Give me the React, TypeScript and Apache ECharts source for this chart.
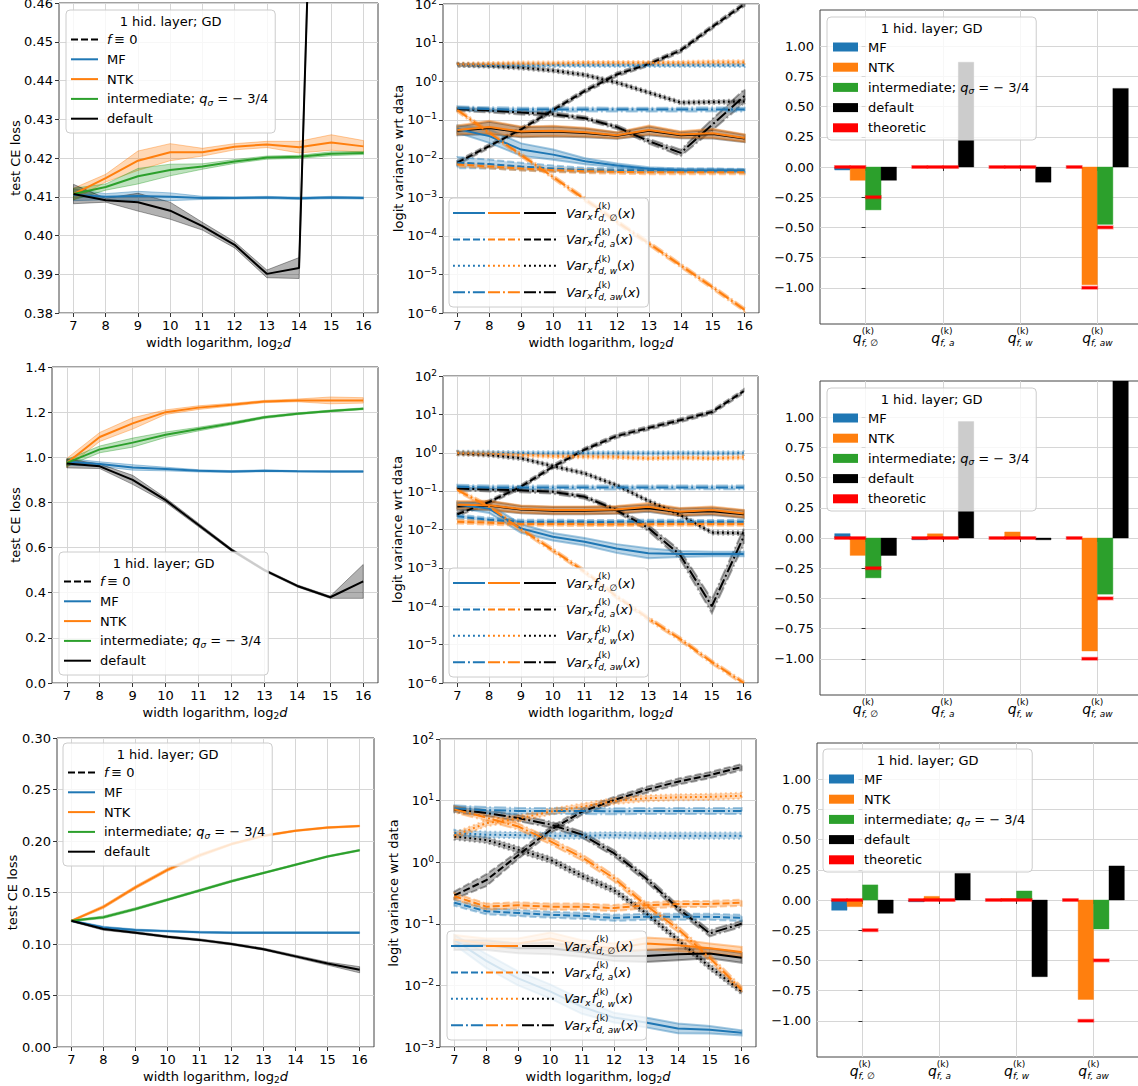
import React, { useEffect, useRef } from 'react';
import * as echarts from 'echarts';

const FONT = '"DejaVu Sans", sans-serif';
const INK = '#000000';
const GRID_LINE = '#d6d6d6';
const FRAME = '#444444';
const COL: any = { mf: '#1f77b4', ntk: '#ff7f0e', int: '#2ca02c', def: '#000000', th: '#ff0000' };
const FILL: any = { mf: 'rgba(31,119,180,0.3)', ntk: 'rgba(255,127,14,0.3)', int: 'rgba(44,160,44,0.3)', def: 'rgba(0,0,0,0.3)' };
const EDGE: any = { mf: 'rgba(31,119,180,0.4)', ntk: 'rgba(255,127,14,0.4)', int: 'rgba(44,160,44,0.4)', def: 'rgba(0,0,0,0.35)', th: 'rgba(255,0,0,0.4)' };
const DASH: any = { o: 'solid', a: [7, 3], w: [1.9, 3.1], aw: [12, 3, 1.9, 3] };

// ---------------- data ----------------
const WIDTHS = [7, 8, 9, 10, 11, 12, 13, 14, 15, 16];

// row 1: test CE loss
const LOSS1_MF = [0.4105, 0.41, 0.4102, 0.41, 0.4097, 0.4097, 0.4098, 0.4096, 0.4098, 0.4097];
const LOSS1_MF_ERR = [0.0015, 0.0008, 0.0012, 0.001, 0.0004, 0.0003, 0.0003, 0.0003, 0.0003, 0.0003];
const LOSS1_NTK = [0.4107, 0.4148, 0.4193, 0.4215, 0.4215, 0.4229, 0.4235, 0.4228, 0.424, 0.423];
const LOSS1_NTK_ERR = [0.0015, 0.001, 0.0025, 0.0022, 0.001, 0.0008, 0.0008, 0.0015, 0.002, 0.0015];
const LOSS1_INT = [0.4107, 0.4125, 0.4153, 0.4169, 0.4178, 0.4191, 0.4201, 0.4203, 0.4211, 0.4213];
const LOSS1_INT_ERR = [0.0015, 0.0008, 0.002, 0.0015, 0.0007, 0.0005, 0.0004, 0.0004, 0.0005, 0.0004];
const LOSS1_DEF = [0.4107, 0.4091, 0.4086, 0.4064, 0.4024, 0.3976, 0.3901, 0.3916, 0.665, 0.68];
const LOSS1_DEF_ERR = [0.0025, 0.0005, 0.0023, 0.0022, 0.001, 0.0008, 0.001, 0.0027, 0.005, 0.005];

// row 2
const LOSS2_MF = [0.98, 0.97, 0.955, 0.948, 0.94, 0.937, 0.94, 0.938, 0.937, 0.937];
const LOSS2_MF_ERR = [0.015, 0.01, 0.012, 0.008, 0.005, 0.004, 0.004, 0.003, 0.003, 0.003];
const LOSS2_NTK = [0.975, 1.09, 1.15, 1.2, 1.22, 1.233, 1.247, 1.252, 1.252, 1.252];
const LOSS2_NTK_ERR = [0.02, 0.02, 0.025, 0.01, 0.008, 0.006, 0.005, 0.006, 0.015, 0.012];
const LOSS2_INT = [0.975, 1.035, 1.065, 1.1, 1.125, 1.15, 1.177, 1.193, 1.205, 1.215];
const LOSS2_INT_ERR = [0.015, 0.015, 0.02, 0.012, 0.008, 0.006, 0.005, 0.004, 0.004, 0.004];
const LOSS2_DEF = [0.973, 0.96, 0.9, 0.81, 0.7, 0.59, 0.5, 0.43, 0.38, 0.45];
const LOSS2_DEF_ERR = [0.02, 0.01, 0.02, 0.01, 0.008, 0.006, 0.005, 0.005, 0.005, 0.075];

// row 3
const LOSS3_MF = [0.1225, 0.116, 0.1135, 0.1125, 0.1115, 0.111, 0.111, 0.111, 0.111, 0.111];
const LOSS3_MF_ERR = [0.0008, 0.0012, 0.001, 0.0008, 0.0008, 0.0008, 0.0008, 0.0008, 0.0008, 0.0008];
const LOSS3_NTK = [0.1225, 0.136, 0.155, 0.172, 0.186, 0.197, 0.205, 0.21, 0.213, 0.2145];
const LOSS3_NTK_ERR = [0.0008, 0.0015, 0.0015, 0.0015, 0.0015, 0.001, 0.001, 0.0008, 0.0008, 0.0008];
const LOSS3_INT = [0.1225, 0.126, 0.134, 0.143, 0.152, 0.161, 0.169, 0.177, 0.185, 0.191];
const LOSS3_INT_ERR = [0.0008, 0.0012, 0.0012, 0.001, 0.001, 0.001, 0.0008, 0.0008, 0.0008, 0.0008];
const LOSS3_DEF = [0.1225, 0.1145, 0.111, 0.107, 0.104, 0.1, 0.095, 0.088, 0.081, 0.075];
const LOSS3_DEF_ERR = [0.0008, 0.0012, 0.001, 0.001, 0.001, 0.001, 0.001, 0.0012, 0.0015, 0.003];

// logit variance, row 1  (O = solid/empty, A = dashed, W = dotted, AW = dash-dot)
const V1_MF_O = [0.058, 0.038, 0.017, 0.0126, 0.0085, 0.0066, 0.0054, 0.005, 0.0049, 0.0049];
const V1_MF_A = [0.0078, 0.0072, 0.0062, 0.0055, 0.005, 0.005, 0.0049, 0.0049, 0.0049, 0.0048];
const V1_MF_W = [2.65, 2.6, 2.6, 2.62, 2.6, 2.6, 2.61, 2.6, 2.6, 2.6];
const V1_MF_AW = [0.2, 0.19, 0.185, 0.185, 0.186, 0.185, 0.185, 0.185, 0.186, 0.185];
const V1_NTK_O = [0.055, 0.065, 0.05, 0.052, 0.048, 0.04, 0.055, 0.042, 0.045, 0.034];
const V1_NTK_A = [0.007, 0.0062, 0.0055, 0.005, 0.0047, 0.0045, 0.0044, 0.0044, 0.0044, 0.0044];
const V1_NTK_W = [2.7, 2.8, 2.9, 2.9, 3.0, 3.0, 3.0, 3.0, 3.1, 3.1];
const V1_NTK_AW = [0.18, 0.046, 0.0123, 0.0033, 8.7e-4, 2.3e-4, 6.3e-5, 1.7e-5, 4.6e-6, 1.2e-6];
const V1_DEF_O = [0.052, 0.062, 0.048, 0.05, 0.046, 0.039, 0.052, 0.04, 0.043, 0.033];
const V1_DEF_A = [0.0078, 0.021, 0.057, 0.18, 0.56, 1.5, 2.8, 6.3, 26, 100];
const V1_DEF_W = [2.67, 2.5, 2.25, 1.9, 1.45, 0.92, 0.51, 0.28, 0.29, 0.3];
const V1_DEF_AW = [0.19, 0.175, 0.155, 0.14, 0.11, 0.065, 0.028, 0.014, 0.077, 0.42];

// row 2
const V2_MF_O = [0.044, 0.035, 0.0107, 0.0065, 0.0048, 0.0032, 0.0024, 0.0023, 0.0023, 0.0023];
const V2_MF_A = [0.022, 0.018, 0.016, 0.016, 0.0158, 0.0158, 0.016, 0.016, 0.0158, 0.016];
const V2_MF_W = [1.0, 1.0, 0.98, 0.97, 0.97, 0.97, 0.97, 0.97, 0.97, 0.98];
const V2_MF_AW = [0.13, 0.125, 0.124, 0.125, 0.125, 0.124, 0.125, 0.125, 0.125, 0.125];
const V2_NTK_O = [0.044, 0.043, 0.034, 0.032, 0.032, 0.033, 0.039, 0.029, 0.032, 0.026];
const V2_NTK_A = [0.016, 0.015, 0.014, 0.014, 0.0138, 0.0138, 0.0138, 0.014, 0.014, 0.014];
const V2_NTK_W = [0.98, 0.95, 0.88, 0.82, 0.8, 0.78, 0.72, 0.75, 0.72, 0.76];
const V2_NTK_AW = [0.107, 0.039, 0.0102, 0.0029, 8.0e-4, 1.8e-4, 4.8e-5, 1.4e-5, 3.5e-6, 1.0e-6];
const V2_DEF_O = [0.04, 0.042, 0.033, 0.031, 0.031, 0.032, 0.036, 0.028, 0.03, 0.025];
const V2_DEF_A = [0.025, 0.052, 0.13, 0.43, 1.2, 2.7, 4.4, 7.0, 11.5, 40];
const V2_DEF_W = [0.96, 0.88, 0.72, 0.45, 0.29, 0.143, 0.056, 0.024, 0.0083, 0.008];
const V2_DEF_AW = [0.117, 0.11, 0.105, 0.096, 0.071, 0.032, 0.011, 0.0022, 1.0e-4, 0.0065];

// row 3
const V3_MF_O = [0.055, 0.025, 0.013, 0.008, 0.0045, 0.003, 0.0025, 0.002, 0.0019, 0.0017];
const V3_MF_A = [0.22, 0.16, 0.15, 0.14, 0.135, 0.125, 0.13, 0.13, 0.13, 0.125];
const V3_MF_W = [3.0, 2.8, 2.75, 2.7, 2.7, 2.75, 2.7, 2.7, 2.7, 2.7];
const V3_MF_AW = [7.5, 7.0, 6.8, 6.8, 6.8, 6.7, 6.8, 6.8, 6.8, 6.8];
const V3_NTK_O = [0.055, 0.048, 0.048, 0.058, 0.045, 0.04, 0.048, 0.045, 0.04, 0.035];
const V3_NTK_A = [0.28, 0.19, 0.2, 0.19, 0.19, 0.18, 0.2, 0.21, 0.21, 0.22];
const V3_NTK_W = [2.7, 4.3, 5.1, 6.6, 8.0, 9.8, 10.9, 11.3, 11.5, 12.0];
const V3_NTK_AW = [7.2, 5.3, 3.8, 2.2, 1.2, 0.55, 0.2, 0.083, 0.028, 0.0085];
const V3_DEF_O = [0.045, 0.045, 0.04, 0.04, 0.035, 0.03, 0.03, 0.032, 0.033, 0.028];
const V3_DEF_A = [0.29, 0.51, 1.3, 3.3, 6.6, 10.2, 14.9, 20.3, 25.9, 35];
const V3_DEF_W = [2.6, 2.3, 1.6, 1.1, 0.6, 0.35, 0.15, 0.055, 0.02, 0.008];
const V3_DEF_AW = [7.2, 6.3, 5.2, 4.1, 2.8, 1.4, 0.55, 0.18, 0.07, 0.1];

// multiplicative spread of the std bands (estimated)
const HALO = [1.12, 1.12, 1.12, 1.12, 1.12, 1.12, 1.12, 1.12, 1.12, 1.12];
const SP_V1_MF_O = [1.25, 1.5, 1.45, 1.35, 1.2, 1.12, 1.1, 1.1, 1.1, 1.08];
const SP_V1_MF_A = [1.4, 1.3, 1.25, 1.2, 1.15, 1.12, 1.12, 1.12, 1.12, 1.12];
const SP_V1_O = [1.3, 1.45, 1.35, 1.35, 1.3, 1.2, 1.3, 1.2, 1.3, 1.25];
const SP_V1_DEF_AW = [1.12, 1.12, 1.12, 1.12, 1.12, 1.12, 1.15, 1.2, 1.4, 1.5];
const SP_V2_MF_O = [1.2, 1.3, 1.3, 1.25, 1.25, 1.3, 1.35, 1.2, 1.15, 1.15];
const SP_V2_O = [1.25, 1.3, 1.25, 1.25, 1.25, 1.25, 1.25, 1.25, 1.25, 1.25];
const SP_V2_DEF_AW = [1.12, 1.12, 1.12, 1.12, 1.12, 1.12, 1.2, 1.3, 1.5, 1.6];
const SP_V3_MF_O = [1.2, 1.3, 1.3, 1.3, 1.3, 1.2, 1.2, 1.2, 1.15, 1.1];
const SP_V3_O = [1.2, 1.2, 1.2, 1.25, 1.2, 1.2, 1.25, 1.25, 1.2, 1.2];
const SP_V3_DEF_A = [1.15, 1.25, 1.15, 1.12, 1.12, 1.12, 1.12, 1.12, 1.12, 1.12];

// exponents: bar charts (groups: empty, a, w, aw)
const BAR_GROUPS = ['\u2205', 'a', 'w', 'aw'];
const B1_MF = [-0.025, 0.003, 0.003, 0.003];
const B1_NTK = [-0.11, 0.003, 0.003, -0.975];
const B1_INT = [-0.355, 0.003, 0.003, -0.475];
const B1_DEF = [-0.11, 0.868, -0.126, 0.651];
const B2_MF = [0.036, -0.015, 0.005, 0.003];
const B2_NTK = [-0.144, 0.035, 0.05, -0.936];
const B2_INT = [-0.33, 0.008, 0.005, -0.465];
const B2_DEF = [-0.145, 0.964, -0.015, 1.45];
const B3_MF = [-0.085, -0.015, 0.003, 0.003];
const B3_NTK = [-0.055, 0.03, 0.012, -0.823];
const B3_INT = [0.125, 0.005, 0.075, -0.24];
const B3_DEF = [-0.11, 0.22, -0.635, 0.282];
const TH_MF = [0, 0, 0, 0];
const TH_NTK = [0, 0, 0, -1];
const TH_INT = [-0.25, 0, 0, -0.5];
const BAR_TICKS = [-1, -0.75, -0.5, -0.25, 0, 0.25, 0.5, 0.75, 1];

// ---------------- layout ----------------
const GRIDS = [
  { left: 59, top: 3, width: 319, height: 310 },
  { left: 443, top: 4, width: 316, height: 309 },
  { left: 820, top: 10, width: 323, height: 314 },
  { left: 52, top: 367, width: 326, height: 316 },
  { left: 443, top: 376, width: 315, height: 307 },
  { left: 820, top: 381, width: 323, height: 314 },
  { left: 57, top: 738, width: 317, height: 309 },
  { left: 440, top: 739, width: 316, height: 308 },
  { left: 817, top: 743, width: 322, height: 314 },
];
const BAR_W = 0.2;
const BAR_OFF = [-0.3, -0.1, 0.1, 0.3];

// ---------------- text helpers ----------------
let _ctx: any = null;
function tw(t: string, size: number, italic?: boolean) {
  if (!_ctx) _ctx = document.createElement('canvas').getContext('2d');
  _ctx.font = `${italic ? 'italic ' : ''}${size}px "DejaVu Sans"`;
  return _ctx.measureText(t).width;
}
function runW(r: any) { return tw(r.t, r.s || 13, r.i) + (r.dx || 0); }
function mathWidth(items: any[]) {
  let w = 0;
  for (const it of items) w += it.up ? Math.max(runW(it.up), runW(it.dn)) : runW(it);
  return w;
}
function runEl(r: any, x: number, y: number, z: number) {
  return {
    type: 'text', z, x: x + (r.dx || 0), y: y + (r.dy || 0), silent: true,
    style: { text: r.t, fontSize: r.s || 13, fontFamily: FONT, fontStyle: r.i ? 'italic' : 'normal', fill: INK, align: 'left', verticalAlign: 'middle' },
  };
}
function mathEls(items: any[], x: number, y: number, align: string, z = 101) {
  const total = mathWidth(items);
  let cx = align === 'center' ? x - total / 2 : x;
  const out: any[] = [];
  for (const it of items) {
    if (it.up) {
      out.push(runEl(it.up, cx, y, z));
      out.push(runEl(it.dn, cx, y, z));
      cx += Math.max(runW(it.up), runW(it.dn));
    } else {
      out.push(runEl(it, cx, y, z));
      cx += runW(it);
    }
  }
  return out;
}
function textEl(x: number, y: number, t: string, align = 'left', rotation = 0) {
  return {
    type: 'text', z: 101, x, y, rotation, silent: true,
    style: { text: t, fontSize: 13, fontFamily: FONT, fill: INK, align, verticalAlign: 'middle' },
  };
}
function boxEl(x: number, y: number, w: number, h: number) {
  return { type: 'rect', z: 100, silent: true, shape: { x, y, width: w, height: h, r: 4 }, style: { fill: 'rgba(255,255,255,0.8)', stroke: '#cccccc', lineWidth: 1 } };
}
function segEl(x1: number, x2: number, y: number, color: string, dash: any) {
  return { type: 'line', z: 101, silent: true, shape: { x1, y1: y, x2, y2: y }, style: { stroke: color, lineWidth: 2, lineDash: dash === 'solid' ? null : dash } };
}
function patchEl(x: number, y: number, w: number, h: number, fill: string) {
  return { type: 'rect', z: 101, silent: true, shape: { x, y: y - h / 2, width: w, height: h }, style: { fill } };
}

const INT_LABEL = [{ t: 'intermediate; ' }, { t: 'q', i: true }, { t: '\u03c3', s: 9, i: true, dy: 4 }, { t: ' = \u2212 3/4' }];
const TITLE = '1 hid. layer; GD';

function lossLegend(x0: number, y0: number) {
  const items = [
    { color: COL.def, dash: DASH.a, label: [{ t: 'f', i: true }, { t: '\u2009\u2261 0' }] },
    { color: COL.mf, dash: 'solid', label: [{ t: 'MF' }] },
    { color: COL.ntk, dash: 'solid', label: [{ t: 'NTK' }] },
    { color: COL.int, dash: 'solid', label: INT_LABEL },
    { color: COL.def, dash: 'solid', label: [{ t: 'default' }] },
  ];
  const w = 41 + Math.max(...items.map((it) => mathWidth(it.label))) + 7;
  const els: any[] = [boxEl(x0, y0, w, 123), textEl(x0 + w / 2, y0 + 11, TITLE, 'center')];
  items.forEach((it, k) => {
    const y = y0 + 29.5 + k * 19.8;
    els.push(segEl(x0 + 5, x0 + 32, y, it.color, it.dash));
    els.push(...mathEls(it.label, x0 + 41, y, 'left'));
  });
  return els;
}

function barLegend(x0: number, y0: number) {
  const items = [
    { color: COL.mf, label: [{ t: 'MF' }] },
    { color: COL.ntk, label: [{ t: 'NTK' }] },
    { color: COL.int, label: INT_LABEL },
    { color: COL.def, label: [{ t: 'default' }] },
    { color: COL.th, label: [{ t: 'theoretic' }] },
  ];
  const w = 41 + Math.max(...items.map((it) => mathWidth(it.label))) + 7;
  const els: any[] = [boxEl(x0, y0, w, 123), textEl(x0 + w / 2, y0 + 11, TITLE, 'center')];
  items.forEach((it, k) => {
    const y = y0 + 30 + k * 20.2;
    els.push(patchEl(x0 + 6, y, 25, 9, it.color));
    els.push(...mathEls(it.label, x0 + 41, y, 'left'));
  });
  return els;
}

function varLabel(sub: string) {
  return [
    { t: 'Var', i: true }, { t: 'x', s: 9, i: true, dy: 4 }, { t: 'f', i: true, dx: 1 },
    { up: { t: '(k)', s: 9, dy: -7 }, dn: { t: 'd, ' + sub, s: 9, i: true, dy: 5 } },
    { t: '(' }, { t: 'x', i: true }, { t: ')' },
  ];
}
function varLegend(x0: number, y0: number) {
  const keys = ['o', 'a', 'w', 'aw'];
  const labels = BAR_GROUPS.map((s) => varLabel(s));
  const w = 117 + Math.max(...labels.map((l) => mathWidth(l))) + 8;
  const els: any[] = [boxEl(x0, y0, w, 109)];
  keys.forEach((k, i) => {
    const y = y0 + 15 + i * 26.4;
    els.push(segEl(x0 + 4, x0 + 36, y, COL.mf, DASH[k]));
    els.push(segEl(x0 + 39, x0 + 71, y, COL.ntk, DASH[k]));
    els.push(segEl(x0 + 75, x0 + 107, y, COL.def, DASH[k]));
    els.push(...mathEls(labels[i], x0 + 117, y, 'left'));
  });
  return els;
}

// ---------------- series helpers ----------------
function bandSeries(g: number, lo: number[], hi: number[], fill: string, edge: string, dash: any, edgeW: number) {
  return {
    type: 'custom', xAxisIndex: g, yAxisIndex: g, clip: true, silent: true,
    encode: { x: 0, y: [1, 2] },
    data: WIDTHS.map((x, i) => [x, lo[i], hi[i]]),
    renderItem: (params: any, api: any) => {
      if (params.dataIndexInside !== 0) return null;
      const n = params.dataInsideLength;
      const up: any[] = [];
      const dn: any[] = [];
      for (let i = 0; i < n; i++) {
        up.push(api.coord([api.value(0, i), api.value(2, i)]));
        dn.push(api.coord([api.value(0, i), api.value(1, i)]));
      }
      return {
        type: 'polygon', shape: { points: up.concat(dn.reverse()) },
        style: { fill, stroke: edge, lineWidth: edgeW, lineDash: dash === 'solid' ? null : dash },
      };
    },
  };
}
function lineSeries(g: number, ys: number[], color: string, dash: any) {
  return {
    type: 'line', xAxisIndex: g, yAxisIndex: g, silent: true, symbol: 'none', showSymbol: false,
    data: WIDTHS.map((x, i) => [x, ys[i]]),
    lineStyle: { color, width: 2, type: dash }, itemStyle: { color }, emphasis: { disabled: true },
  };
}
function barSeries(g: number, vals: number[], off: number, fill: string, stroke: string) {
  return {
    type: 'custom', xAxisIndex: g, yAxisIndex: g, clip: true, silent: true,
    encode: { x: 0, y: 1 },
    data: vals.map((v, i) => [i, v]),
    renderItem: (params: any, api: any) => {
      const i = api.value(0);
      const v = api.value(1);
      const a = api.coord([i + off - BAR_W / 2, 0]);
      const b = api.coord([i + off + BAR_W / 2, v]);
      return { type: 'rect', shape: { x: a[0], y: Math.min(a[1], b[1]), width: b[0] - a[0], height: Math.abs(b[1] - a[1]) }, style: { fill, stroke, lineWidth: 1 } };
    },
  };
}
function theorySeries(g: number, vals: number[], off: number) {
  return {
    type: 'custom', xAxisIndex: g, yAxisIndex: g, clip: true, silent: true,
    encode: { x: 0, y: 1 },
    data: vals.map((v, i) => [i, v]),
    renderItem: (params: any, api: any) => {
      const i = api.value(0);
      const v = api.value(1);
      const a = api.coord([i + off - BAR_W / 2, v + 0.011]);
      const b = api.coord([i + off + BAR_W / 2, v - 0.011]);
      return { type: 'rect', shape: { x: a[0], y: a[1], width: b[0] - a[0], height: b[1] - a[1] }, style: { fill: COL.th, stroke: EDGE.th, lineWidth: 1.5 } };
    },
  };
}

// ---------------- axes ----------------
const tickStyle = { show: true, length: 4, lineStyle: { color: '#333333', width: 1 } };
const labelBase = { color: INK, fontSize: 13, fontFamily: FONT };
const split = { show: true, lineStyle: { color: GRID_LINE, width: 1 } };

function widthAxis(g: number) {
  return {
    type: 'value', gridIndex: g, min: 6.55, max: 16.45,
    axisLine: { show: false },
    axisTick: { ...tickStyle, customValues: WIDTHS },
    axisLabel: { ...labelBase, margin: 6, customValues: WIDTHS, formatter: (v: number) => String(v) },
    splitLine: split,
  };
}
function lossAxis(g: number, min: number, max: number, interval: number, digits: number) {
  return {
    type: 'value', gridIndex: g, min, max, interval,
    axisLine: { show: false }, axisTick: tickStyle,
    axisLabel: { ...labelBase, margin: 6, formatter: (v: number) => v.toFixed(digits) },
    splitLine: split,
  };
}
function logAxis(g: number, min: number, max: number, splitNumber: number) {
  return {
    type: 'log', logBase: 10, gridIndex: g, min, max, splitNumber,
    axisLine: { show: false }, axisTick: tickStyle,
    axisLabel: {
      ...labelBase, margin: 6,
      formatter: (v: number) => {
        const e = Math.round(Math.log10(v));
        return '{b|10}{s|' + (e < 0 ? '\u2212' : '') + Math.abs(e) + '}';
      },
      rich: {
        b: { fontSize: 13, fontFamily: FONT, color: INK, lineHeight: 16 },
        s: { fontSize: 9, fontFamily: FONT, color: INK, verticalAlign: 'top', lineHeight: 7 },
      },
    },
    splitLine: split,
  };
}
function barXAxis(g: number) {
  return {
    type: 'value', gridIndex: g, min: -0.59, max: 3.59,
    axisLine: { show: false },
    axisTick: { ...tickStyle, customValues: [0, 1, 2, 3] },
    axisLabel: { show: false, customValues: [0, 1, 2, 3] },
    splitLine: split,
  };
}
function barYAxis(g: number) {
  return {
    type: 'value', gridIndex: g, min: -1.3, max: 1.3,
    axisLine: { show: false },
    axisTick: { ...tickStyle, customValues: BAR_TICKS },
    axisLabel: { ...labelBase, margin: 6, customValues: BAR_TICKS, formatter: (v: number) => (v < 0 ? '\u2212' : '') + Math.abs(v).toFixed(2) },
    splitLine: split,
  };
}

// ---------------- panels ----------------
const LOSS_PANELS = [
  { g: 0, axis: [0.38, 0.46, 0.01, 2], mf: [LOSS1_MF, LOSS1_MF_ERR], ntk: [LOSS1_NTK, LOSS1_NTK_ERR], int: [LOSS1_INT, LOSS1_INT_ERR], def: [LOSS1_DEF, LOSS1_DEF_ERR] },
  { g: 3, axis: [0, 1.4, 0.2, 1], mf: [LOSS2_MF, LOSS2_MF_ERR], ntk: [LOSS2_NTK, LOSS2_NTK_ERR], int: [LOSS2_INT, LOSS2_INT_ERR], def: [LOSS2_DEF, LOSS2_DEF_ERR] },
  { g: 6, axis: [0, 0.3, 0.05, 2], mf: [LOSS3_MF, LOSS3_MF_ERR], ntk: [LOSS3_NTK, LOSS3_NTK_ERR], int: [LOSS3_INT, LOSS3_INT_ERR], def: [LOSS3_DEF, LOSS3_DEF_ERR] },
];
const VAR_PANELS = [
  {
    g: 4 - 3, range: [1e-6, 100, 8],
    def: [[V1_DEF_O, SP_V1_O], [V1_DEF_A, HALO], [V1_DEF_W, HALO], [V1_DEF_AW, SP_V1_DEF_AW]],
    mf: [[V1_MF_O, SP_V1_MF_O], [V1_MF_A, SP_V1_MF_A], [V1_MF_W, HALO], [V1_MF_AW, HALO]],
    ntk: [[V1_NTK_O, SP_V1_O], [V1_NTK_A, HALO], [V1_NTK_W, HALO], [V1_NTK_AW, HALO]],
  },
  {
    g: 4, range: [1e-6, 100, 8],
    def: [[V2_DEF_O, SP_V2_O], [V2_DEF_A, HALO], [V2_DEF_W, HALO], [V2_DEF_AW, SP_V2_DEF_AW]],
    mf: [[V2_MF_O, SP_V2_MF_O], [V2_MF_A, HALO], [V2_MF_W, HALO], [V2_MF_AW, HALO]],
    ntk: [[V2_NTK_O, SP_V2_O], [V2_NTK_A, HALO], [V2_NTK_W, HALO], [V2_NTK_AW, HALO]],
  },
  {
    g: 7, range: [1e-3, 100, 5],
    def: [[V3_DEF_O, SP_V3_O], [V3_DEF_A, SP_V3_DEF_A], [V3_DEF_W, HALO], [V3_DEF_AW, HALO]],
    mf: [[V3_MF_O, SP_V3_MF_O], [V3_MF_A, HALO], [V3_MF_W, HALO], [V3_MF_AW, HALO]],
    ntk: [[V3_NTK_O, SP_V3_O], [V3_NTK_A, HALO], [V3_NTK_W, HALO], [V3_NTK_AW, HALO]],
  },
];
const BAR_PANELS = [
  { g: 2, bars: [B1_MF, B1_NTK, B1_INT, B1_DEF] },
  { g: 5, bars: [B2_MF, B2_NTK, B2_INT, B2_DEF] },
  { g: 8, bars: [B3_MF, B3_NTK, B3_INT, B3_DEF] },
];
const MODELS = ['mf', 'ntk', 'int', 'def'];
const COMPS = ['o', 'a', 'w', 'aw'];

function buildOption() {
  const xAxis: any[] = [];
  const yAxis: any[] = [];
  const series: any[] = [];
  for (let g = 0; g < 9; g++) {
    const col = g % 3;
    if (col === 2) { xAxis.push(barXAxis(g)); yAxis.push(barYAxis(g)); }
    else xAxis.push(widthAxis(g));
    if (col === 0) {
      const p: any = LOSS_PANELS.find((q) => q.g === g);
      yAxis.push(lossAxis(g, p.axis[0], p.axis[1], p.axis[2], p.axis[3]));
    } else if (col === 1) {
      const p: any = VAR_PANELS.find((q) => q.g === g);
      yAxis.push(logAxis(g, p.range[0], p.range[1], p.range[2]));
    }
  }
  LOSS_PANELS.forEach((p: any) => {
    MODELS.forEach((m) => {
      const [v, e] = p[m];
      series.push(bandSeries(p.g, v.map((y: number, i: number) => y - e[i]), v.map((y: number, i: number) => y + e[i]), FILL[m], EDGE[m], 'solid', 1));
      series.push(lineSeries(p.g, v, COL[m], 'solid'));
    });
  });
  VAR_PANELS.forEach((p: any) => {
    ['def', 'mf', 'ntk'].forEach((m) => {
      COMPS.forEach((c, k) => {
        const [v, s] = p[m][k];
        series.push(bandSeries(p.g, v.map((y: number, i: number) => y / s[i]), v.map((y: number, i: number) => y * s[i]), FILL[m], EDGE[m], DASH[c], 2));
        series.push(lineSeries(p.g, v, COL[m], DASH[c]));
      });
    });
  });
  BAR_PANELS.forEach((p) => {
    p.bars.forEach((vals, k) => series.push(barSeries(p.g, vals, BAR_OFF[k], COL[MODELS[k]], EDGE[MODELS[k]])));
    [TH_MF, TH_NTK, TH_INT].forEach((vals, k) => series.push(theorySeries(p.g, vals, BAR_OFF[k])));
  });
  return {
    animation: false,
    backgroundColor: '#ffffff',
    textStyle: { fontFamily: FONT },
    grid: GRIDS.map((r) => ({ ...r, show: true, borderColor: FRAME, borderWidth: 1, backgroundColor: 'transparent', containLabel: false, outerBoundsMode: 'none' })),
    xAxis, yAxis, series,
  };
}

const Y_TITLE_X = [15, 398, 0, 15, 397, 0, 12, 393, 0];
const LOSS_LEGEND_POS = [[66, 10], [59, 552], [63, 743]];
const VAR_LEGEND_POS = [[449, 198], [449, 568], [447, 931]];
const BAR_LEGEND_POS = [[827, 17], [827, 388], [823, 749]];

function buildGraphics(chart: any) {
  const els: any[] = [];
  const xTitle = [{ t: 'width logarithm, log' }, { t: '2', s: 9, dy: 4 }, { t: 'd', i: true }];
  GRIDS.forEach((r, g) => {
    const col = g % 3;
    const bottom = r.top + r.height;
    if (col < 2) {
      els.push(...mathEls(xTitle, r.left + r.width / 2, bottom + 29, 'center'));
      els.push(textEl(Y_TITLE_X[g], r.top + r.height / 2, col === 0 ? 'test CE loss' : 'logit variance wrt data', 'center', Math.PI / 2));
    } else {
      BAR_GROUPS.forEach((s, i) => {
        const p = chart.convertToPixel({ gridIndex: g }, [i, 0]);
        const lab = [{ t: 'q', i: true, s: 14 }, { up: { t: '(k)', s: 9, dy: -7 }, dn: { t: 'f, ' + s, s: 9, i: true, dy: 5 } }];
        els.push(...mathEls(lab, p[0], bottom + 14, 'center'));
      });
    }
  });
  LOSS_LEGEND_POS.forEach(([x, y]) => els.push(...lossLegend(x, y)));
  VAR_LEGEND_POS.forEach(([x, y]) => els.push(...varLegend(x, y)));
  BAR_LEGEND_POS.forEach(([x, y]) => els.push(...barLegend(x, y)));
  return els;
}

export default function App() {
  const ref = useRef<HTMLDivElement>(null);
  useEffect(() => {
    const chart = echarts.init(ref.current as HTMLDivElement, null, { renderer: 'svg', width: 1138, height: 1086 });
    chart.setOption(buildOption());
    chart.setOption({ graphic: { elements: buildGraphics(chart) } });
    return () => chart.dispose();
  }, []);
  return <div ref={ref} style={{ position: 'absolute', left: 0, top: 0, width: 1138, height: 1086, background: '#ffffff' }} />;
}
